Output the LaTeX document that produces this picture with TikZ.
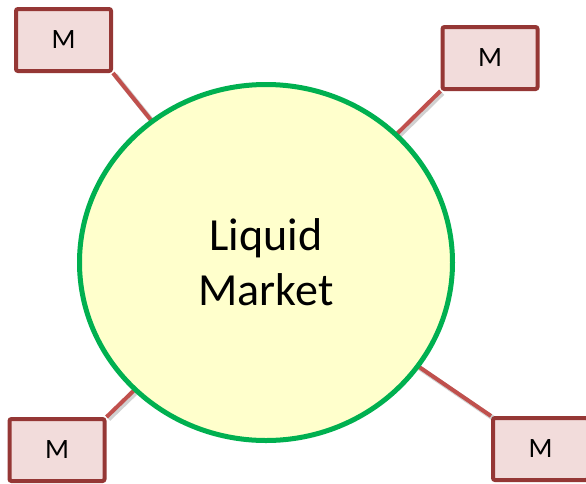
\documentclass[tikz,border=0pt]{standalone}
\usepackage{fontspec}
\setmainfont{Carlito}
\usetikzlibrary{shapes.geometric,backgrounds}
\definecolor{boxfill}{HTML}{F2DCDB}
\definecolor{boxdraw}{HTML}{953735}
\definecolor{linkcol}{HTML}{C0504D}
\definecolor{circfill}{HTML}{FFFFCC}
\definecolor{circdraw}{HTML}{00B050}
\tikzset{
  mbox/.style={draw=boxdraw, fill=boxfill, line width=4pt, rounded corners=2pt,
    minimum width=95pt, minimum height=62pt, inner sep=0pt,
    font=\fontsize{28}{32}\selectfont},
  market/.style={ellipse, draw=circdraw, fill=circfill, line width=5pt,
    minimum width=373pt, minimum height=356pt, inner sep=0pt, align=center,
    font=\fontsize{46}{55}\selectfont},
  link/.style={draw=linkcol, line width=4pt},
  linkshadow/.style={draw=black, opacity=0.18, line width=5pt,
    transform canvas={shift={(2pt,-2pt)}}}
}
\begin{document}
\begin{tikzpicture}[x=1pt,y=-1pt]
\useasboundingbox (0,0) rectangle (586,483);
\node[market] (lm) at (266,262.5) {Liquid\\Market};
\node[mbox] (tl) at (63.5,40) {M};
\node[mbox] (tr) at (490,58) {M};
\node[mbox] (bl) at (57,450) {M};
\node[mbox] (br) at (540.5,449) {M};
\begin{scope}[on background layer]
  \draw[linkshadow] (tl.south east) -- (lm.center);
  \draw[linkshadow] (tr.south west) -- (lm.center);
  \draw[linkshadow] (bl.north east) -- (lm.center);
  \draw[linkshadow] (br.north west) -- (lm.center);
  \draw[link] (tl.south east) -- (lm.center);
  \draw[link] (tr.south west) -- (lm.center);
  \draw[link] (bl.north east) -- (lm.center);
  \draw[link] (br.north west) -- (lm.center);
\end{scope}
\end{tikzpicture}
\end{document}
